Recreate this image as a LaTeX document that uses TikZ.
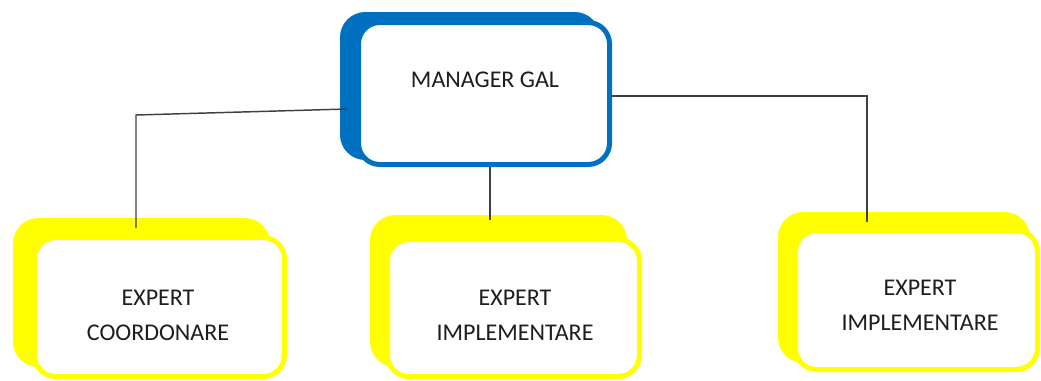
\documentclass[tikz,border=0pt]{standalone}
\usepackage{fontspec}
\setmainfont{Carlito}
\definecolor{mblue}{RGB}{0,112,192}
\definecolor{myellow}{RGB}{255,255,0}
\definecolor{conncol}{RGB}{64,64,64}
\definecolor{txtcol}{RGB}{30,30,30}
\tikzset{
  backbox/.style={draw=none, rectangle, rounded corners=19pt, inner sep=0pt},
  frontbox/.style={rectangle, fill=white, line width=3.75pt, rounded corners=16pt, inner sep=0pt},
  conn/.style={draw=conncol, line width=1.1pt},
  lbl/.style={font=\fontsize{18}{26.25}\selectfont, text=txtcol, align=center, inner sep=0pt}
}
\begin{document}
\begin{tikzpicture}[x=0.75pt,y=-0.75pt]
\useasboundingbox (0,0) rectangle (1041,380);
% back shapes
\node[backbox, fill=mblue, minimum width=260*0.75pt, minimum height=148*0.75pt] (mback) at (470,86) {};
\node[backbox, fill=myellow, minimum width=257*0.75pt, minimum height=149*0.75pt] (lback) at (141.5,292.5) {};
\node[backbox, fill=myellow, minimum width=257*0.75pt, minimum height=152*0.75pt] (cback) at (498.5,291) {};
\node[backbox, fill=myellow, minimum width=252*0.75pt, minimum height=151*0.75pt] (rback) at (904,287.5) {};
% connector end points
\coordinate (l1) at (347,109);
\coordinate (l2) at (136,115);
\coordinate (l3) at (136,228);
\coordinate (c2) at (490,220);
\coordinate (r1) at (867,96);
\coordinate (r2) at (867,222);
% front boxes
\node[frontbox, draw=mblue, minimum width=251*0.75pt, minimum height=142*0.75pt] (mgr) at (484,93.5) {};
\node[frontbox, draw=myellow, minimum width=250*0.75pt, minimum height=139*0.75pt] (lbox) at (159.5,307) {};
\node[frontbox, draw=myellow, minimum width=252*0.75pt, minimum height=137*0.75pt] (cbox) at (513.5,308) {};
\node[frontbox, draw=myellow, minimum width=242*0.75pt, minimum height=139*0.75pt] (rbox) at (916.5,300) {};
% connectors
\draw[conn] (l1) -- (l2) -- (l3);
\draw[conn] (mgr.south -| c2) -- (c2);
\draw[conn] (mgr.east |- r1) -- (r1) -- (r2);
% labels
\node[lbl] (tm) at (485,80) {MANAGER GAL};
\node[lbl] (tl) at (158,315.5) {EXPERT\\COORDONARE};
\node[lbl] (tc) at (515,315.5) {EXPERT\\IMPLEMENTARE};
\node[lbl] (tr) at (920,305.5) {EXPERT\\IMPLEMENTARE};
\end{tikzpicture}
\end{document}
